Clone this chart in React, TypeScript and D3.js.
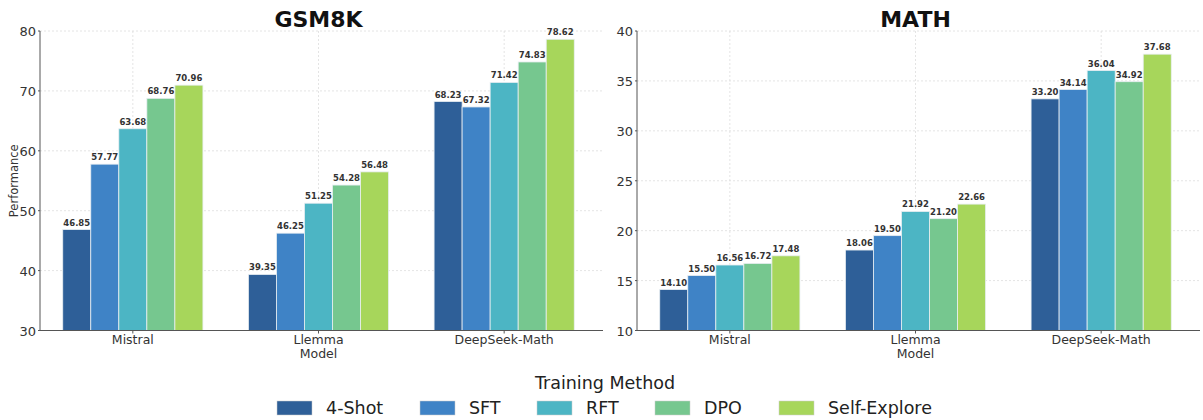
import * as React from 'react'
import * as d3 from 'd3'

const models = ['Mistral', 'Llemma', 'DeepSeek-Math']
const methods = ['4-Shot', 'SFT', 'RFT', 'DPO', 'Self-Explore']
const colors = ['#2e5f98', '#3f83c6', '#4cb5c4', '#76c78f', '#a7d65b']

// rows = model, cols = method
const gsm8k = [
    [46.85, 57.77, 63.68, 68.76, 70.96],
    [39.35, 46.25, 51.25, 54.28, 56.48],
    [68.23, 67.32, 71.42, 74.83, 78.62],
]
const math = [
    [14.10, 15.50, 16.56, 16.72, 17.48],
    [18.06, 19.50, 21.92, 21.20, 22.66],
    [33.20, 34.14, 36.04, 34.92, 37.68],
]
const gsmTicks = [30, 40, 50, 60, 70, 80]
const mathTicks = [10, 15, 20, 25, 30, 35, 40]

const FONT = 'DejaVu Sans, sans-serif'

interface PanelProps {
    title: string
    data: number[][]
    ticks: number[]
    domain: [number, number]
    left: number
    showYLabel: boolean
}

const Panel = (props: PanelProps) => {
    const top = 31
    const bottom = 330.5
    const width = 557
    const x = d3.scaleBand().domain(models).range([props.left, props.left + width])
    const inner = d3.scaleBand().domain(methods).range([0, x.bandwidth() * 0.755])
    const y = d3.scaleLinear().domain(props.domain).range([bottom, top])
    const off = (x.bandwidth() - inner.range()[1]) / 2

    return <g>
        <text x={props.left + width / 2} y={27} textAnchor='middle' fontFamily={FONT}
            fontWeight='bold' fontSize={22} fill='#111'>{props.title}</text>
        {/* grid */}
        {props.ticks.map(t => (
            <line key={'gy' + t} x1={props.left} x2={props.left + width + 6} y1={y(t)} y2={y(t)}
                stroke='#ddd' strokeWidth={0.8} strokeDasharray='2,2' />
        ))}
        {models.map(m => (
            <line key={'gx' + m} x1={x(m)! + x.bandwidth() / 2} x2={x(m)! + x.bandwidth() / 2}
                y1={top} y2={bottom} stroke='#ddd' strokeWidth={0.8} strokeDasharray='2,2' />
        ))}
        {/* bars */}
        {models.map((m, i) => methods.map((k, j) => {
            const v = props.data[i][j]
            const bx = x(m)! + off + inner(k)!
            return <g key={m + k}>
                <rect x={bx} y={y(v)} width={inner.bandwidth()} height={bottom - y(v)}
                    fill={colors[j]} stroke='#e8eef2' strokeWidth={0.8} />
                <text x={bx + inner.bandwidth() / 2} y={y(v) - 4} textAnchor='middle'
                    fontFamily={FONT} fontWeight='bold' fontSize={8.5} fill='#333'>{v.toFixed(2)}</text>
            </g>
        }))}
        {/* axes */}
        <line x1={props.left} x2={props.left} y1={top} y2={bottom} stroke='#555' strokeWidth={1} />
        <line x1={props.left} x2={props.left + width + 6} y1={bottom} y2={bottom} stroke='#555' strokeWidth={1} />
        {props.ticks.map(t => (
            <g key={'yt' + t}>
                <line x1={props.left - 2} x2={props.left} y1={y(t)} y2={y(t)} stroke='#555' />
                <text x={props.left - 4} y={y(t) + 5} textAnchor='end' fontFamily={FONT}
                    fontSize={13} fill='#333'>{t}</text>
            </g>
        ))}
        {models.map(m => (
            <g key={'xt' + m}>
                <line x1={x(m)! + x.bandwidth() / 2} x2={x(m)! + x.bandwidth() / 2}
                    y1={bottom} y2={bottom + 3} stroke='#555' />
                <text x={x(m)! + x.bandwidth() / 2} y={bottom + 13} textAnchor='middle'
                    fontFamily={FONT} fontSize={12.5} fill='#333'>{m}</text>
            </g>
        ))}
        <text x={x('Llemma')! + x.bandwidth() / 2} y={bottom + 27} textAnchor='middle'
            fontFamily={FONT} fontSize={12.5} fill='#333'>Model</text>
        {props.showYLabel &&
            <text transform={`translate(18, ${(top + bottom) / 2}) rotate(-90)`} textAnchor='middle'
                fontFamily={FONT} fontSize={11.5} fill='#333'>Performance</text>}
    </g>
}

const App = () => {
    const legendX = [277, 420, 537, 655, 779]
    return <svg width={1203} height={420} style={{ position: 'absolute', left: 0, top: 0 }}>
        <rect width={1203} height={420} fill='#fff' />
        <Panel title='GSM8K' data={gsm8k} ticks={gsmTicks} domain={[30, 80]} left={40} showYLabel={true} />
        <Panel title='MATH' data={math} ticks={mathTicks} domain={[10, 40]} left={637} showYLabel={false} />
        <text x={605} y={389} textAnchor='middle' fontFamily={FONT} fontSize={17.5} fill='#222'>Training Method</text>
        {methods.map((k, j) => (
            <g key={'lg' + k}>
                <rect x={legendX[j]} y={401} width={35} height={14} fill={colors[j]} stroke='#ccc' strokeWidth={0.5} />
                <text x={legendX[j] + 49} y={414} fontFamily={FONT} fontSize={17.5} fill='#222'>{k}</text>
            </g>
        ))}
    </svg>
}

export default App
